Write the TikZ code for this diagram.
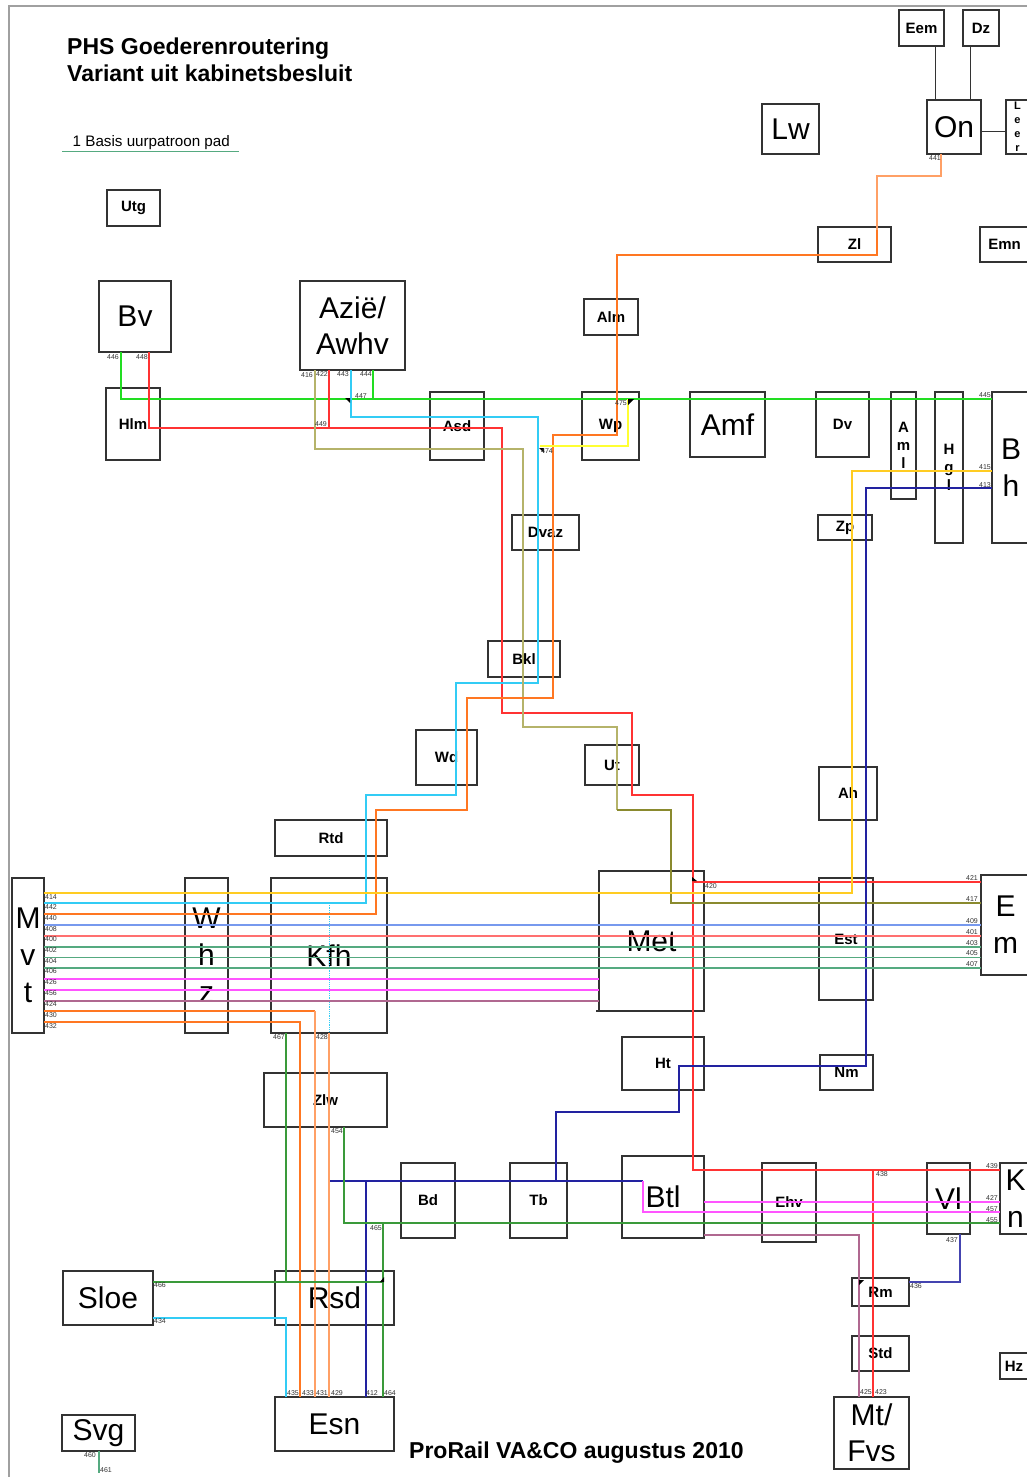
\documentclass[tikz,border=0pt]{standalone}
\usepackage{fontspec}
\setmainfont{Liberation Sans}
\definecolor{cGreen}{HTML}{22DD22}
\definecolor{cRed}{HTML}{FF3333}
\definecolor{cCyan}{HTML}{33CCF5}
\definecolor{cKhaki}{HTML}{B5B36A}
\definecolor{cOlive}{HTML}{8A8A2E}
\definecolor{cOrange}{HTML}{FF7722}
\definecolor{cOrangeL}{HTML}{FFA066}
\definecolor{cYellow}{HTML}{FFFF33}
\definecolor{cGold}{HTML}{FFCC22}
\definecolor{cNavy}{HTML}{2222A0}
\definecolor{cNavyL}{HTML}{4444B0}
\definecolor{cBlue}{HTML}{7799EE}
\definecolor{cSea}{HTML}{55AA80}
\definecolor{cMag}{HTML}{FF55FF}
\definecolor{cMauve}{HTML}{B06890}
\definecolor{cDGreen}{HTML}{3A9A3A}
\definecolor{cBox}{HTML}{333333}
\definecolor{cFrame}{HTML}{A0A0A0}
\newcommand\mkbox[7]{\node[boxn,#7,minimum width={(#4-#2)*1pt},minimum height={(#5-#3)*1pt}] (#1) at ({(#2+#4)/2},{(#3+#5)/2}) {#6};}
\begin{document}
\begin{tikzpicture}[x=1pt,y=-1pt,
  boxn/.style={draw=cBox,line width=1.2pt,inner sep=0pt,outer sep=0pt,align=center},
  sm/.style={font=\bfseries\fontsize{15}{18}\selectfont},
  lg/.style={font=\fontsize{30}{37}\selectfont},
  vs/.style={font=\bfseries\fontsize{15}{18}\selectfont},
  route/.style={line width=1.1pt},
  lbl/.style={font=\fontsize{7}{8}\selectfont,inner sep=0pt,text=black!80},
  mark/.style={fill=black}]
\useasboundingbox (0,0) rectangle (1027,1477);
\fill[white] (0,0) rectangle (1027,1477);
\draw[cFrame,line width=1.5pt] (9,1477)--(9,6)--(1027,6);
% titles
\node[anchor=base west,inner sep=0pt,font=\bfseries\fontsize{23}{27}\selectfont] (t1) at (67,54.3) {PHS Goederenroutering};
\node[anchor=base west,inner sep=0pt,font=\bfseries\fontsize{23}{27}\selectfont] (t2) at (67,81.7) {Variant uit kabinetsbesluit};
\node[anchor=base west,inner sep=0pt,font=\fontsize{15.2}{18}\selectfont] (leg) at (72.5,146.7) {1 Basis uurpatroon pad};
\draw[cSea,line width=1pt] (62,151.5)--(239,151.5);
\node[anchor=base west,inner sep=0pt,font=\bfseries\fontsize{23}{27}\selectfont] (foot) at (409,1458) {ProRail VA\&CO augustus 2010};
% boxes
\mkbox{utg}{107}{190}{160}{226}{Utg}{sm}
\mkbox{bv}{99}{281}{171}{352}{Bv}{lg}
\mkbox{azie}{300}{281}{405}{370}{Azië/\\Awhv}{font=\fontsize{30}{36}\selectfont}
\mkbox{hlm}{106}{388}{160}{460}{Hlm}{sm}
\mkbox{asd}{430}{392}{484}{460}{Asd}{sm}
\mkbox{wp}{582}{392}{639}{460}{Wp}{sm}
\mkbox{amf}{690}{392}{765}{457}{Amf}{lg}
\mkbox{dv}{816}{392}{869}{457}{Dv}{sm}
\mkbox{aml}{891}{392}{916}{499}{A\\m\\l}{vs}
\mkbox{hgl}{935}{392}{963}{543}{H\\g\\l}{vs}
\mkbox{bh}{992}{392}{1030}{543}{B\\h}{lg}
\mkbox{zp}{818}{515}{872}{540}{Zp}{sm}
\mkbox{alm}{584}{299}{638}{335}{Alm}{sm}
\mkbox{zl}{818}{227}{891}{262}{Zl}{sm}
\mkbox{emn}{980}{227}{1029}{262}{Emn}{sm}
\mkbox{lw}{762}{104}{819}{154}{Lw}{lg}
\mkbox{on}{927}{100}{981}{154}{On}{lg}
\mkbox{eem}{899}{10}{944}{46}{Eem}{sm}
\mkbox{dz}{963}{10}{999}{46}{Dz}{sm}
\mkbox{leer}{1006}{100}{1029}{154}{L\\e\\e\\r}{font=\bfseries\fontsize{11}{14}\selectfont}
\mkbox{dvaz}{512}{515}{579}{550}{Dvaz}{sm}
\mkbox{bkl}{488}{641}{560}{677}{Bkl}{sm}
\mkbox{wd}{416}{730}{477}{785}{Wd}{sm}
\mkbox{ut}{585}{745}{639}{785}{Ut}{sm}
\mkbox{rtd}{275}{820}{387}{856}{Rtd}{sm}
\mkbox{ah}{819}{767}{877}{820}{Ah}{sm}
\mkbox{mvt}{12}{878}{44}{1033}{M\\v\\t}{lg}
\mkbox{whz}{185}{878}{228}{1033}{W\\h\\z}{lg}
\mkbox{kfh}{271}{878}{387}{1033}{Kfh}{lg}
\mkbox{met}{599}{871}{704}{1011}{Met}{lg}
\draw[cBox,line width=1.2pt] (596,1011)--(599,1011);
\mkbox{est}{819}{878}{873}{1000}{Est}{sm}
\mkbox{em}{981}{875}{1030}{975}{E\\m}{lg}
\mkbox{ht}{622}{1037}{704}{1090}{Ht}{sm}
\mkbox{nm}{820}{1055}{873}{1090}{Nm}{sm}
\mkbox{zlw}{264}{1073}{387}{1127}{Zlw}{sm}
\mkbox{bd}{401}{1163}{455}{1238}{Bd}{sm}
\mkbox{tb}{510}{1163}{567}{1238}{Tb}{sm}
\mkbox{btl}{622}{1156}{704}{1238}{Btl}{lg}
\mkbox{ehv}{762}{1163}{816}{1242}{Ehv}{sm}
\mkbox{vl}{927}{1163}{970}{1234}{Vl}{lg}
\mkbox{kn}{1000}{1163}{1031}{1234}{K\\n}{lg}
\mkbox{sloe}{63}{1271}{153}{1325}{Sloe}{lg}
\mkbox{rsd}{275}{1271}{394}{1325}{Rsd}{lg}
\mkbox{rm}{852}{1278}{909}{1306}{Rm}{sm}
\mkbox{std}{852}{1336}{909}{1371}{Std}{sm}
\mkbox{hz}{1000}{1353}{1028}{1379}{Hz}{sm}
\mkbox{svg}{62}{1415}{135}{1451}{Svg}{lg}
\mkbox{esn}{275}{1397}{394}{1451}{Esn}{lg}
\mkbox{mtf}{834}{1397}{909}{1469}{Mt/\\Fvs}{font=\fontsize{30}{36}\selectfont}
% black links
\draw[cBox,line width=1pt] (935,46)--(935,100) (970,46)--(970,100) (981,132)--(1006,132);
% routes
\draw[route,cGreen] (121,352)--(121,399)--(992,399) (373,370)--(373,399);
\draw[route,cRed] (149,352)--(149,428)--(502,428)--(502,713)--(632,713)--(632,795)--(693,795)--(693,1170)--(1000,1170);
\draw[route,cRed] (329,370)--(329,428) (873,1170)--(873,1397) (693,882)--(981,882);
\draw[route,cCyan] (351,370)--(351,417)--(538,417)--(538,683)--(456,683)--(456,795)--(366,795)--(366,903)--(44,903);
\draw[cCyan,line width=0.8pt,densely dotted] (329,903)--(329,1033);
\draw[route,cKhaki] (315,370)--(315,449)--(523,449)--(523,727)--(617,727)--(617,810);
\draw[route,cOlive] (617,810)--(671,810)--(671,903)--(981,903);
\draw[route,cOrangeL] (941,154)--(941,176)--(877,176)--(877,230);
\draw[route,cOrange] (877,230)--(877,255)--(617,255)--(617,435)--(553,435)--(553,698)--(467,698)--(467,810)--(376,810)--(376,914)--(44,914);
\draw[route,cYellow] (628,399)--(628,446)--(540,446);
\draw[route,cGold] (992,471)--(852,471)--(852,893)--(44,893);
\draw[route,cNavy] (992,488)--(866,488)--(866,1066)--(679,1066)--(679,1112)--(556,1112)--(556,1181);
\draw[route,cNavy] (329,1181)--(643,1181) (366,1181)--(366,1397);
\draw[route,cNavyL] (960,1234)--(960,1282)--(909,1282);
\draw[route,cBlue] (44,925)--(981,925);
\draw[route,cRed!70] (44,936)--(981,936);
\draw[route,cSea] (44,947)--(981,947) (44,957.5)--(981,957.5) (44,968)--(981,968);
\draw[route,cMag] (44,979)--(599,979) (44,990)--(599,990);
\draw[route,cMauve] (44,1001)--(599,1001);
\draw[route,cOrange] (44,1011)--(315,1011);
\draw[route,cOrangeL] (315,1011)--(315,1397);
\draw[route,cOrange] (44,1022)--(300,1022)--(300,1397);
\draw[route,cOrangeL] (329,1033)--(329,1397);
\draw[route,cDGreen] (286,1033)--(286,1282) (153,1282)--(383,1282) (383,1223)--(383,1397) (344,1127)--(344,1223)--(1000,1223);
\draw[route,cCyan] (153,1318)--(286,1318)--(286,1397);
\draw[route,cMag] (704,1202)--(1000,1202) (643,1181)--(643,1212)--(1000,1212);
\draw[route,cMauve] (704,1235)--(859,1235)--(859,1397);
\draw[route,cSea] (99,1451)--(99,1473);
% markers
\fill (345,398)--(350,398)--(350,403)--cycle;
\fill (628,399)--(634,399)--(628,405)--cycle;
\fill (539,448)--(544,448)--(544,453)--cycle;
\fill (692,877)--(697,881)--(692,881)--cycle;
\fill (380,1282)--(384,1277)--(384,1282)--cycle;
\fill (859,1280)--(864,1280)--(859,1285)--cycle;
% labels
\node[lbl] at (113,357) {446};
\node[lbl] at (142,357) {448};
\node[lbl] at (307,375) {416};
\node[lbl] at (322,374) {422};
\node[lbl] at (343,374) {443};
\node[lbl] at (366,374) {444};
\node[lbl] at (361,396) {447};
\node[lbl] at (321,424) {449};
\node[lbl] at (621,403) {475};
\node[lbl] at (547,451) {474};
\node[lbl] at (935,158) {441};
\node[lbl] at (985,395) {445};
\node[lbl] at (985,467) {415};
\node[lbl] at (985,485) {413};
\node[lbl] at (711,886) {420};
\node[lbl] at (972,878) {421};
\node[lbl] at (972,899) {417};
\node[lbl] at (972,921) {409};
\node[lbl] at (972,932) {401};
\node[lbl] at (972,943) {403};
\node[lbl] at (972,953) {405};
\node[lbl] at (972,964) {407};
\foreach \t/\y in {414/897,442/907,440/918,408/929,400/939,402/950,404/961,406/971,426/982,456/993,424/1004,430/1015,432/1026}
  \node[lbl,anchor=west] at (45,\y) {\t};
\node[lbl] at (279,1037) {467};
\node[lbl] at (322,1037) {428};
\node[lbl] at (337,1131) {454};
\node[lbl] at (376,1228) {465};
\node[lbl] at (160,1285) {466};
\node[lbl] at (160,1321) {434};
\node[lbl] at (293,1393) {435};
\node[lbl] at (308,1393) {433};
\node[lbl] at (322,1393) {431};
\node[lbl] at (337,1393) {429};
\node[lbl] at (372,1393) {412};
\node[lbl] at (390,1393) {464};
\node[lbl] at (90,1455) {460};
\node[lbl] at (106,1470) {461};
\node[lbl] at (882,1174) {438};
\node[lbl] at (992,1166) {439};
\node[lbl] at (992,1198) {427};
\node[lbl] at (992,1209) {457};
\node[lbl] at (992,1220) {455};
\node[lbl] at (952,1240) {437};
\node[lbl] at (916,1286) {436};
\node[lbl] at (866,1392) {425};
\node[lbl] at (881,1392) {423};
\end{tikzpicture}
\end{document}
